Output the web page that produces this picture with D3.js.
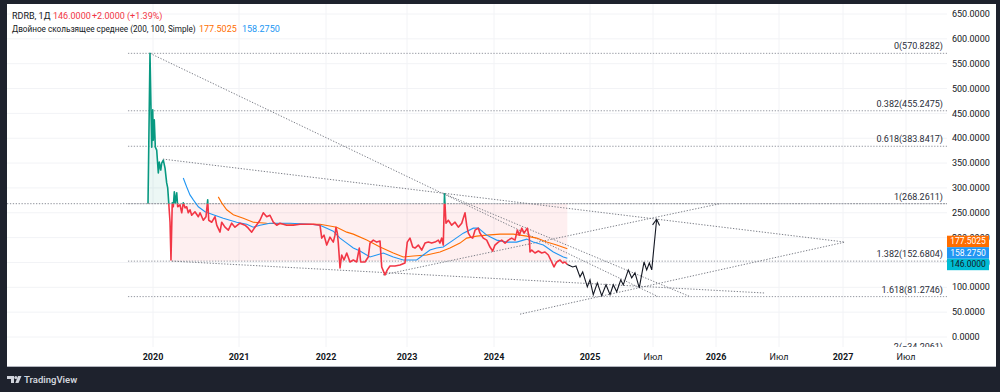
<!DOCTYPE html>
<html>
<head>
<meta charset="utf-8">
<script src="https://cdn.jsdelivr.net/npm/d3@7"></script>
<style>
html, body { margin: 0; padding: 0; background: #1e222d; }
svg { display: block; font-family: Roboto, "Noto Sans", sans-serif; }
</style>
</head>
<body>
<svg id="chart" width="1000" height="392"></svg>
<script>
// time is a decimal year, value is price (RUB)
var priceData = [[2019.942,268],[2019.965,571],[2019.985,382],[2019.997,457],[2020.003,396],[2020.015,437],[2020.027,382],[2020.043,376],[2020.062,330],[2020.073,352],[2020.090,336],[2020.101,350],[2020.120,356],[2020.140,340],[2020.159,310],[2020.171,300],[2020.183,270],[2020.198,231],[2020.209,155],[2020.224,270],[2020.236,262],[2020.248,292],[2020.259,270],[2020.276,290],[2020.287,262],[2020.314,266],[2020.334,250],[2020.352,270],[2020.372,260],[2020.392,262],[2020.410,250],[2020.430,256],[2020.450,245],[2020.488,252],[2020.527,242],[2020.547,250],[2020.585,235],[2020.616,242],[2020.636,276],[2020.648,235],[2020.683,231],[2020.721,242],[2020.741,225],[2020.779,211],[2020.799,231],[2020.837,221],[2020.876,215],[2020.915,229],[2020.953,221],[2021.011,229],[2021.069,225],[2021.107,219],[2021.146,211],[2021.184,221],[2021.241,235],[2021.279,250],[2021.318,242],[2021.356,245],[2021.394,231],[2021.433,225],[2021.471,229],[2021.548,225],[2021.624,225],[2021.701,227],[2021.778,227],[2021.854,227],[2021.931,225],[2021.951,199],[2021.977,205],[2022.009,185],[2022.049,201],[2022.090,191],[2022.111,205],[2022.123,221],[2022.140,209],[2022.152,189],[2022.173,139],[2022.194,165],[2022.222,155],[2022.256,169],[2022.296,151],[2022.337,155],[2022.379,151],[2022.411,179],[2022.428,151],[2022.481,151],[2022.522,161],[2022.543,189],[2022.584,195],[2022.626,191],[2022.667,193],[2022.688,141],[2022.728,125],[2022.757,135],[2022.790,143],[2022.852,143],[2022.914,145],[2022.975,149],[2023.003,191],[2023.034,199],[2023.066,181],[2023.092,179],[2023.130,185],[2023.169,175],[2023.207,189],[2023.245,191],[2023.284,189],[2023.322,191],[2023.360,195],[2023.379,189],[2023.399,199],[2023.417,185],[2023.431,288],[2023.448,229],[2023.475,235],[2023.514,225],[2023.552,231],[2023.590,221],[2023.629,229],[2023.667,250],[2023.686,225],[2023.705,209],[2023.732,201],[2023.755,199],[2023.782,215],[2023.820,219],[2023.839,209],[2023.877,199],[2023.916,195],[2023.954,181],[2023.985,173],[2024.010,185],[2024.045,191],[2024.080,195],[2024.115,189],[2024.149,195],[2024.184,199],[2024.219,195],[2024.243,215],[2024.264,205],[2024.289,219],[2024.313,209],[2024.347,219],[2024.368,199],[2024.375,171],[2024.393,175],[2024.427,169],[2024.462,173],[2024.497,169],[2024.531,171],[2024.566,165],[2024.591,155],[2024.625,141],[2024.653,151],[2024.688,155],[2024.716,149],[2024.740,151],[2024.764,146]];

var maSlow = [[2020.759,282],[2020.799,270],[2020.857,256],[2020.934,246],[2021.049,239],[2021.164,231],[2021.318,229],[2021.624,227],[2021.931,227],[2022.132,221],[2022.256,211],[2022.337,207],[2022.503,195],[2022.667,181],[2022.831,169],[2022.954,161],[2023.072,163],[2023.226,165],[2023.379,171],[2023.494,179],[2023.609,189],[2023.686,199],[2023.801,203],[2023.916,205],[2024.063,207],[2024.201,207],[2024.341,203],[2024.445,199],[2024.549,191],[2024.653,185],[2024.764,177.5025]];

var maFast = [[2020.352,320],[2020.392,302],[2020.430,286],[2020.469,276],[2020.527,262],[2020.605,252],[2020.701,246],[2020.817,239],[2020.973,231],[2021.089,227],[2021.164,221],[2021.241,225],[2021.356,229],[2021.586,229],[2021.816,227],[2021.931,225],[2022.009,219],[2022.090,213],[2022.173,199],[2022.256,189],[2022.337,179],[2022.420,173],[2022.543,161],[2022.626,165],[2022.707,169],[2022.831,161],[2022.954,155],[2023.111,155],[2023.187,165],[2023.264,175],[2023.341,179],[2023.417,181],[2023.532,195],[2023.647,209],[2023.762,219],[2023.820,219],[2023.916,205],[2024.028,195],[2024.132,191],[2024.236,191],[2024.341,197],[2024.409,191],[2024.514,185],[2024.618,171],[2024.722,161],[2024.764,158.275]];

var forecast = [[2024.764,146],[2024.820,141],[2024.854,143],[2024.896,121],[2024.924,131],[2024.972,101],[2025.000,115],[2025.026,85],[2025.058,109],[2025.093,83],[2025.127,105],[2025.159,85],[2025.185,105],[2025.212,91],[2025.244,115],[2025.264,105],[2025.304,135],[2025.331,119],[2025.357,129],[2025.391,99],[2025.429,151],[2025.450,135],[2025.471,149],[2025.490,135],[2025.529,237]];

var trendLines = [
  [[2019.965,570.83],[2025.540,81.27]],
  [[2023.431,288],[2025.794,81.27]],
  [[2020.116,358],[2027.016,191]],
  [[2024.271,46],[2027.016,191]],
  [[2020.221,152.68],[2026.389,88.5]],
  [[2022.704,125],[2026.032,268.26]]
];

var fibLevels = ["0", "0.382", "0.618", "1", "1.382", "1.618", "2"];
var fibPrices = [570.8282, 455.2475, 383.8417, 268.2611, 152.6804, 81.2746, -34.2061];
var fibStart = 2019.709;
var baseline = 268.2611;
var zoneTime = [2020.209, 2024.764];
var zonePrice = [152.6804, 268.2611];

var tickTimes = [2020, 2021, 2022, 2023, 2024, 2025, 2025.5, 2026, 2026.5, 2027, 2027.5];
var tickLabels = ["2020", "2021", "2022", "2023", "2024", "2025", "Июл", "2026", "Июл", "2027", "Июл"];
var priceTicks = d3.range(0, 651, 50);

var lastPrice = 146.0, maSlowLast = 177.5025, maFastLast = 158.2750;

var GREEN = "#089981", RED = "#f23645", ORANGE = "#ff6d00", BLUE = "#2196f3";

var svg = d3.select("#chart");
var plot = {left: 7, right: 947, top: 4, bottom: 347};

// the time axis is not even: TradingView spaces bars, not days
var x = d3.scaleLinear()
  .domain(tickTimes)
  .range([153, 239, 326, 407, 494, 590, 653, 716, 779, 843, 906]);
var y = d3.scaleLinear().domain([0, 650]).range([337, 14]);

// white panel
svg.append("rect").attr("x", 7).attr("y", 4).attr("width", 989).attr("height", 363).attr("fill", "#fff");
svg.append("line").attr("x1", 7).attr("x2", 996).attr("y1", 366.5).attr("y2", 366.5)
  .attr("stroke", "#b2b5be").attr("stroke-width", 1);

var defs = svg.append("defs");
defs.append("clipPath").attr("id", "clipPlot").append("rect")
  .attr("x", plot.left).attr("y", plot.top)
  .attr("width", plot.right - plot.left).attr("height", plot.bottom - plot.top);
defs.append("clipPath").attr("id", "clipUp").append("rect")
  .attr("x", plot.left).attr("y", plot.top)
  .attr("width", plot.right - plot.left).attr("height", y(baseline) - plot.top);
defs.append("clipPath").attr("id", "clipDown").append("rect")
  .attr("x", plot.left).attr("y", y(baseline))
  .attr("width", plot.right - plot.left).attr("height", plot.bottom - y(baseline));
defs.append("marker").attr("id", "arrow").attr("viewBox", "-8 -5 10 10")
  .attr("markerWidth", 10).attr("markerHeight", 10).attr("markerUnits", "userSpaceOnUse")
  .attr("orient", "auto")
  .append("path").attr("d", "M-6,-3.5L0,0L-6,3.5").attr("fill", "none")
  .attr("stroke", "#131722").attr("stroke-width", 1.1);

var g = svg.append("g").attr("clip-path", "url(#clipPlot)");

// grid
g.selectAll(".vgrid").data(tickTimes).enter().append("line")
  .attr("x1", d => x(d)).attr("x2", d => x(d))
  .attr("y1", plot.top).attr("y2", plot.bottom)
  .attr("stroke", "#f2f3f6");
g.selectAll(".hgrid").data(priceTicks).enter().append("line")
  .attr("x1", plot.left).attr("x2", plot.right)
  .attr("y1", d => y(d)).attr("y2", d => y(d))
  .attr("stroke", "#f2f3f6");

// pink zone
g.append("rect")
  .attr("x", x(zoneTime[0])).attr("width", x(zoneTime[1]) - x(zoneTime[0]))
  .attr("y", y(zonePrice[1])).attr("height", y(zonePrice[0]) - y(zonePrice[1]))
  .attr("fill", "rgba(242,54,69,0.08)");

// baseline fill above
var area = d3.area().x(d => x(d[0])).y0(y(baseline)).y1(d => y(d[1]));
g.append("path").datum(priceData).attr("d", area)
  .attr("clip-path", "url(#clipUp)").attr("fill", "rgba(8,153,129,0.08)");

var dotted = "1.3,1.6";

// baseline
g.append("line").attr("x1", plot.left).attr("x2", plot.right)
  .attr("y1", y(baseline)).attr("y2", y(baseline))
  .attr("stroke", "#8c8f98").attr("stroke-dasharray", dotted);

// fib lines
g.selectAll(".fib").data(fibPrices).enter().append("line")
  .attr("x1", x(fibStart)).attr("x2", plot.right)
  .attr("y1", d => y(d)).attr("y2", d => y(d))
  .attr("stroke", "#9598a1").attr("stroke-dasharray", dotted);

g.selectAll(".fibLabel").data(fibPrices).enter().append("text")
  .attr("x", plot.right - 4).attr("y", d => y(d) - 4)
  .attr("text-anchor", "end").attr("font-size", 9).attr("fill", "#2a2e39")
  .text((d, i) => fibLevels[i] + "(" + d.toFixed(4).replace("-", "−") + ")");

// trend lines
g.selectAll(".trend").data(trendLines).enter().append("line")
  .attr("x1", d => x(d[0][0])).attr("y1", d => y(d[0][1]))
  .attr("x2", d => x(d[1][0])).attr("y2", d => y(d[1][1]))
  .attr("stroke", "#7b7e87").attr("stroke-dasharray", dotted);

// moving averages
var line = d3.line().x(d => x(d[0])).y(d => y(d[1]));
g.append("path").datum(maSlow).attr("d", line).attr("fill", "none")
  .attr("stroke", ORANGE).attr("stroke-width", 1.1);
g.append("path").datum(maFast).attr("d", line).attr("fill", "none")
  .attr("stroke", BLUE).attr("stroke-width", 1.1);

// price, split at the baseline
g.append("path").datum(priceData).attr("d", line).attr("fill", "none")
  .attr("clip-path", "url(#clipUp)").attr("stroke", GREEN).attr("stroke-width", 1.6)
  .attr("stroke-linejoin", "round");
g.append("path").datum(priceData).attr("d", line).attr("fill", "none")
  .attr("clip-path", "url(#clipDown)").attr("stroke", RED).attr("stroke-width", 1.6)
  .attr("stroke-linejoin", "round");

// forecast path
g.append("path").datum(forecast).attr("d", line).attr("fill", "none")
  .attr("stroke", "#131722").attr("stroke-width", 1.1)
  .attr("marker-end", "url(#arrow)");

// time axis labels
svg.selectAll(".tlabel").data(tickTimes).enter().append("text")
  .attr("x", d => x(d)).attr("y", 357).attr("dy", "0.35em")
  .attr("text-anchor", "middle").attr("font-size", 9).attr("fill", "#131722")
  .attr("font-weight", (d, i) => tickLabels[i] === "Июл" ? 400 : 700)
  .text((d, i) => tickLabels[i]);

// price axis labels (200 sits under the badges, as on the original)
svg.selectAll(".plabel").data(priceTicks).enter().append("text")
  .attr("x", 952).attr("y", d => y(d)).attr("dy", "0.35em")
  .attr("font-size", 9).attr("fill", "#131722")
  .text(d => d.toFixed(4));

// price badges, stacked so they do not overlap
var bh = 11.5;
var cLast = y(lastPrice);
var cFast = Math.min(y(maFastLast), cLast - bh);
var cSlow = Math.min(y(maSlowLast), cFast - bh);
var badges = [
  {c: cSlow, v: maSlowLast, bg: ORANGE, fg: "#fff"},
  {c: cFast, v: maFastLast, bg: BLUE, fg: "#fff"},
  {c: cLast, v: lastPrice, bg: "#00bcd4", fg: "#131722"}
];
var bg = svg.selectAll(".badge").data(badges).enter().append("g");
bg.append("rect").attr("x", 947).attr("width", 42)
  .attr("y", d => d.c - bh / 2).attr("height", bh).attr("fill", d => d.bg);
bg.append("text").attr("x", 968).attr("y", d => d.c).attr("dy", "0.35em")
  .attr("text-anchor", "middle").attr("font-size", 8.5).attr("fill", d => d.fg)
  .text(d => d.v.toFixed(4));

// legend
var l1 = svg.append("text").attr("x", 12).attr("y", 16).attr("dy", "0.35em")
  .attr("font-size", 9).attr("fill", "#131722");
l1.append("tspan").text("RDRB, 1Д");
l1.append("tspan").attr("x", 53).attr("fill", RED).text("146.0000");
l1.append("tspan").attr("x", 92).attr("fill", RED).text("+2.0000 (+1.39%)");

var l2 = svg.append("g");
l2.append("text").attr("x", 12).attr("y", 29).attr("dy", "0.35em").attr("fill", "#131722")
  .attr("font-size", 8.2)
  .text("Двойное скользящее среднее (200, 100, Simple)");
l2.append("text").attr("x", 199).attr("y", 29).attr("dy", "0.35em").attr("font-size", 9)
  .attr("fill", ORANGE).text("177.5025");
l2.append("text").attr("x", 242).attr("y", 29).attr("dy", "0.35em").attr("font-size", 9)
  .attr("fill", BLUE).text("158.2750");

// TradingView logo
var logo = svg.append("g").attr("fill", "#d1d4dc");
logo.append("path").attr("d", "M7,376h7v7h-3v-4h-4z");
logo.append("circle").attr("cx", 15.8).attr("cy", 377.5).attr("r", 1.5);
logo.append("path").attr("d", "M18,376h3.5l-3,7h-3.2z");
logo.append("text").attr("x", 24).attr("y", 379.5).attr("dy", "0.35em")
  .attr("font-size", 9.5).attr("font-weight", 600).text("TradingView");
</script>
</body>
</html>
